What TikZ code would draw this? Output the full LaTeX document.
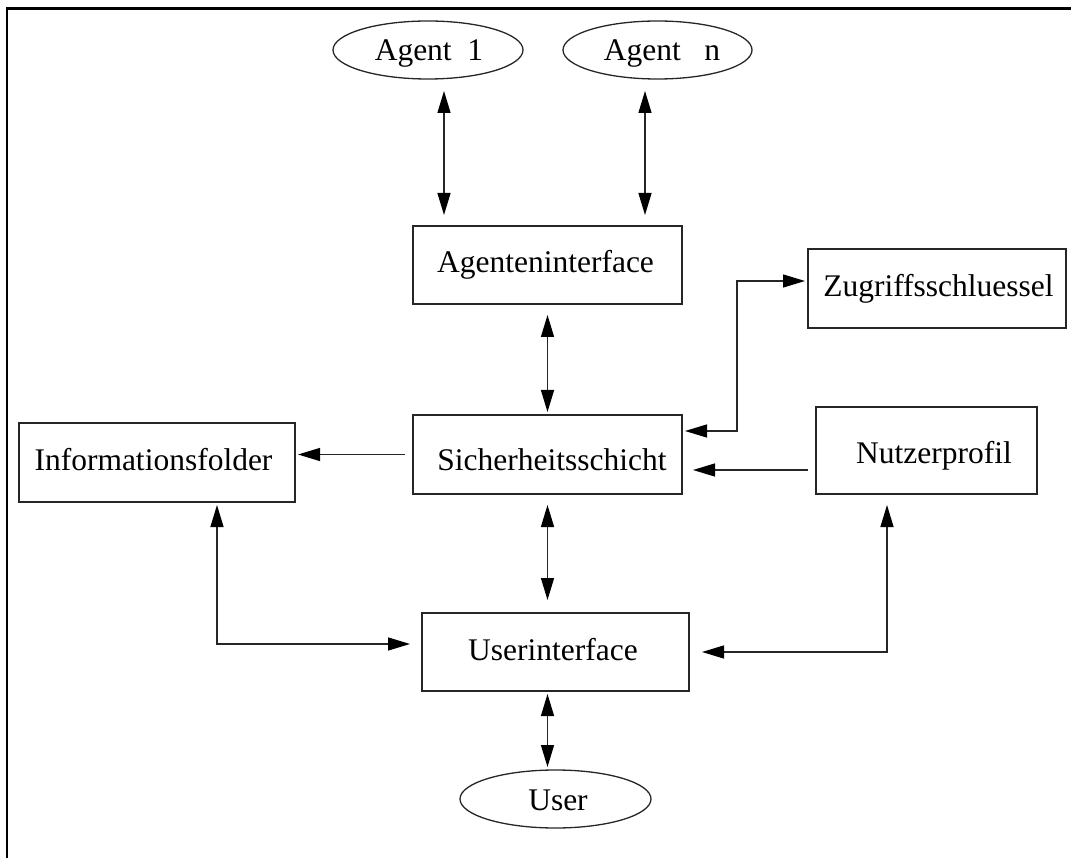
\documentclass[tikz,border=0pt]{standalone}
\usepackage{fontspec}
\setmainfont{Liberation Serif}
\usetikzlibrary{arrows.meta,shapes.geometric,calc}
\begin{document}
\begin{tikzpicture}[x=1pt,y=-1pt,
  every node/.style={inner sep=0pt, outer sep=0pt},
  box/.style={draw=black!85, line width=1.3pt, rectangle},
  oval/.style={draw=black!85, line width=1.3pt, ellipse},
  txt/.style={anchor=base, font=\fontsize{31.5}{36}\selectfont},
  link/.style={draw=black!85, line width=1.3pt},
  one/.style={link, -{Triangle[length=22pt,width=13pt,color=black]}},
  both/.style={link, {Triangle[length=22pt,width=13pt,color=black]}-{Triangle[length=22pt,width=13pt,color=black]}}
]
\useasboundingbox (0,0) rectangle (1071,858);

% frame edges
\draw[line width=3pt] (6,8.5) -- (1071,8.5);
\draw[line width=2.3pt] (7,7) -- (7,858);

% shapes
\node[oval, minimum width=190pt, minimum height=58pt] (a1) at (428,50) {};
\node[oval, minimum width=189pt, minimum height=58pt] (an) at (657.5,50) {};
\node[box, minimum width=269pt, minimum height=78pt] (aif) at (547.5,265) {};
\node[box, minimum width=258pt, minimum height=79pt] (zs) at (937,288.5) {};
\node[box, minimum width=269pt, minimum height=79pt] (sic) at (547.5,454.5) {};
\node[box, minimum width=276pt, minimum height=79pt] (inf) at (157,462.5) {};
\node[box, minimum width=221pt, minimum height=87pt] (np) at (926.5,450.5) {};
\node[box, minimum width=267pt, minimum height=78pt] (ui) at (555.5,652) {};
\node[oval, minimum width=191pt, minimum height=58pt] (us) at (555.5,799) {};

% labels
\node[txt] (a1t) at (429,61) {Agent\ \ 1};
\node[txt] (ant) at (662,61) {Agent\ \ \ n};
\node[txt] (aift) at (545.5,273) {Agenteninterface};
\node[txt] (zst) at (938.5,297) {Zugriffsschluessel};
\node[txt] (sict) at (552,470) {Sicherheitsschicht};
\node[txt] (inft) at (153.5,470) {Informationsfolder};
\node[txt] (npt) at (934,463) {Nutzerprofil};
\node[txt] (uit) at (553,660) {Userinterface};
\node[txt] (ust) at (558,810) {User};

% connectors
\draw[both, shorten <=12pt, shorten >=11pt]
  ($(a1.south)+(16,0)$) -- ($(a1.south |- aif.north)+(16,0)$);
\draw[both, shorten <=12pt, shorten >=11pt]
  ($(an.south)+(-12.5,0)$) -- ($(an.south |- aif.north)+(-12.5,0)$);
\draw[both, shorten <=11pt, shorten >=3pt] (aif.south) -- (aif.south |- sic.north);
\draw[one, shorten <=8pt, shorten >=3pt] (sic.west) -- (sic.west -| inf.east);
\draw[one, shorten <=8pt, shorten >=11pt]
  ($(np.west |- sic.east)+(0,15.5)$) -- ($(sic.east)+(0,15.5)$);
\draw[both, shorten <=3pt, shorten >=3pt]
  ($(sic.east)+(0,-23.5)$) -| ($(zs.west)+(-71,-7.5)$) -- ($(zs.west)+(0,-7.5)$);
\draw[both, shorten <=11pt, shorten >=13pt] (sic.south) -- (sic.south |- ui.north);
\draw[both, shorten <=3pt, shorten >=12pt]
  ($(inf.south)+(60,0)$) |- ($(ui.west)+(0,-8)$);
\draw[both, shorten <=11pt, shorten >=13pt]
  ($(np.south)+(-39.5,0)$) |- (ui.east);
\draw[both, shorten <=3pt, shorten >=3pt] (sic.south |- ui.south) -- (sic.south |- us.north);
\end{tikzpicture}
\end{document}
